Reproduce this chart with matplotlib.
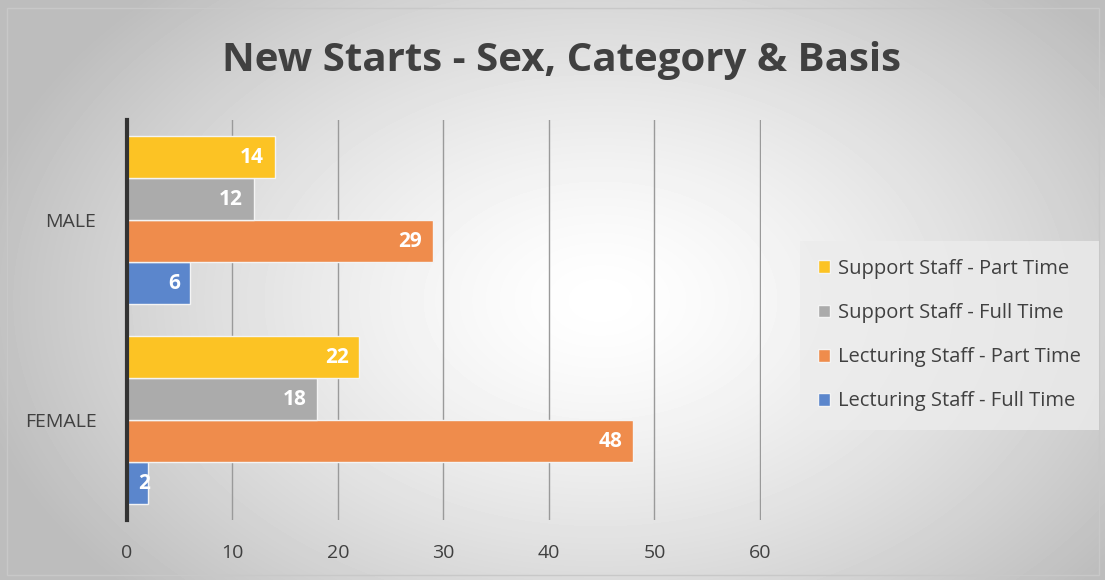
import matplotlib.pyplot as plt
import numpy as np
from matplotlib.patches import Rectangle

plt.rcParams['font.family'] = ['Open Sans', 'DejaVu Sans']

categories = ['FEMALE', 'MALE']
series_names = ['Lecturing Staff - Full Time', 'Lecturing Staff - Part Time',
                'Support Staff - Full Time', 'Support Staff - Part Time']
lect_full = [2, 6]
lect_part = [48, 29]
supp_full = [18, 12]
supp_part = [22, 14]
colors = ['#5B86CC', '#EF8C4C', '#ABABAB', '#FCC324']
x_ticks = [0, 10, 20, 30, 40, 50, 60]

fig = plt.figure(figsize=(11.05, 5.8), dpi=100)

# radial background
bg = fig.add_axes([0, 0, 1, 1])
yy, xx = np.mgrid[0:580, 0:1105]
r = np.sqrt(((xx - 600) / 640.0) ** 2 + ((yy - 300) / 430.0) ** 2)
r = np.clip(r, 0, 1)
shade = 1.0 - 0.26 * r ** 1.4
bg.imshow(shade, cmap='gray', vmin=0, vmax=1, aspect='auto', extent=[0, 1105, 580, 0])
bg.add_patch(Rectangle((7, 8), 1092, 567, fill=False, edgecolor='#c8c8c8', lw=1))
bg.set_xlim(0, 1105)
bg.set_ylim(580, 0)
bg.axis('off')

ax = fig.add_axes([0.1149, 0.1034, 0.5738, 0.6897])
ax.patch.set_alpha(0)

h = 0.21
y = np.arange(len(categories))
all_vals = [lect_full, lect_part, supp_full, supp_part]
offsets = [-1.5 * h, -0.5 * h, 0.5 * h, 1.5 * h]
handles = []
for vals, off, c, name in zip(all_vals, offsets, colors, series_names):
    bars = ax.barh(y + off, vals, height=h, color=c, edgecolor='#f4f4f4', lw=1, label=name, zorder=3)
    handles.append(bars)
    for b, v in zip(bars, vals):
        ax.text(max(b.get_width() - 1.0, 2.2), b.get_y() + h / 2, str(v), ha='right', va='center',
                color='white', fontsize=15, fontweight='bold', zorder=4)

ax.set_xlim(0, 60.1)
ax.set_ylim(-0.5, 1.5)
ax.set_xticks(x_ticks)
ax.set_yticks(y)
ax.set_yticklabels(categories)
ax.grid(axis='x', color='#9a9a9a', lw=1, zorder=0)
for s in ['top', 'right', 'bottom']:
    ax.spines[s].set_visible(False)
ax.spines['left'].set_color('#333333')
ax.spines['left'].set_linewidth(3)
ax.spines['left'].set_zorder(5)
ax.tick_params(axis='both', length=0, labelsize=14, colors='#404040')
ax.tick_params(axis='x', pad=17)
ax.tick_params(axis='y', pad=22)

fig.text(0.508, 0.895, 'New Starts - Sex, Category & Basis', ha='center', va='center',
         fontsize=29, fontweight='bold', color='#404040')

leg = fig.legend(handles[::-1], series_names[::-1], loc='center', bbox_to_anchor=(0.859, 0.422),
                 fontsize=14.5, frameon=True, fancybox=False, handlelength=0.6, handleheight=0.6,
                 handletextpad=0.4, labelspacing=1.2, borderpad=0.9, labelcolor='#404040')
leg.get_frame().set_facecolor('#ececec')
leg.get_frame().set_edgecolor('none')
leg.get_frame().set_alpha(0.8)

fig.savefig('out.png', dpi=100)
